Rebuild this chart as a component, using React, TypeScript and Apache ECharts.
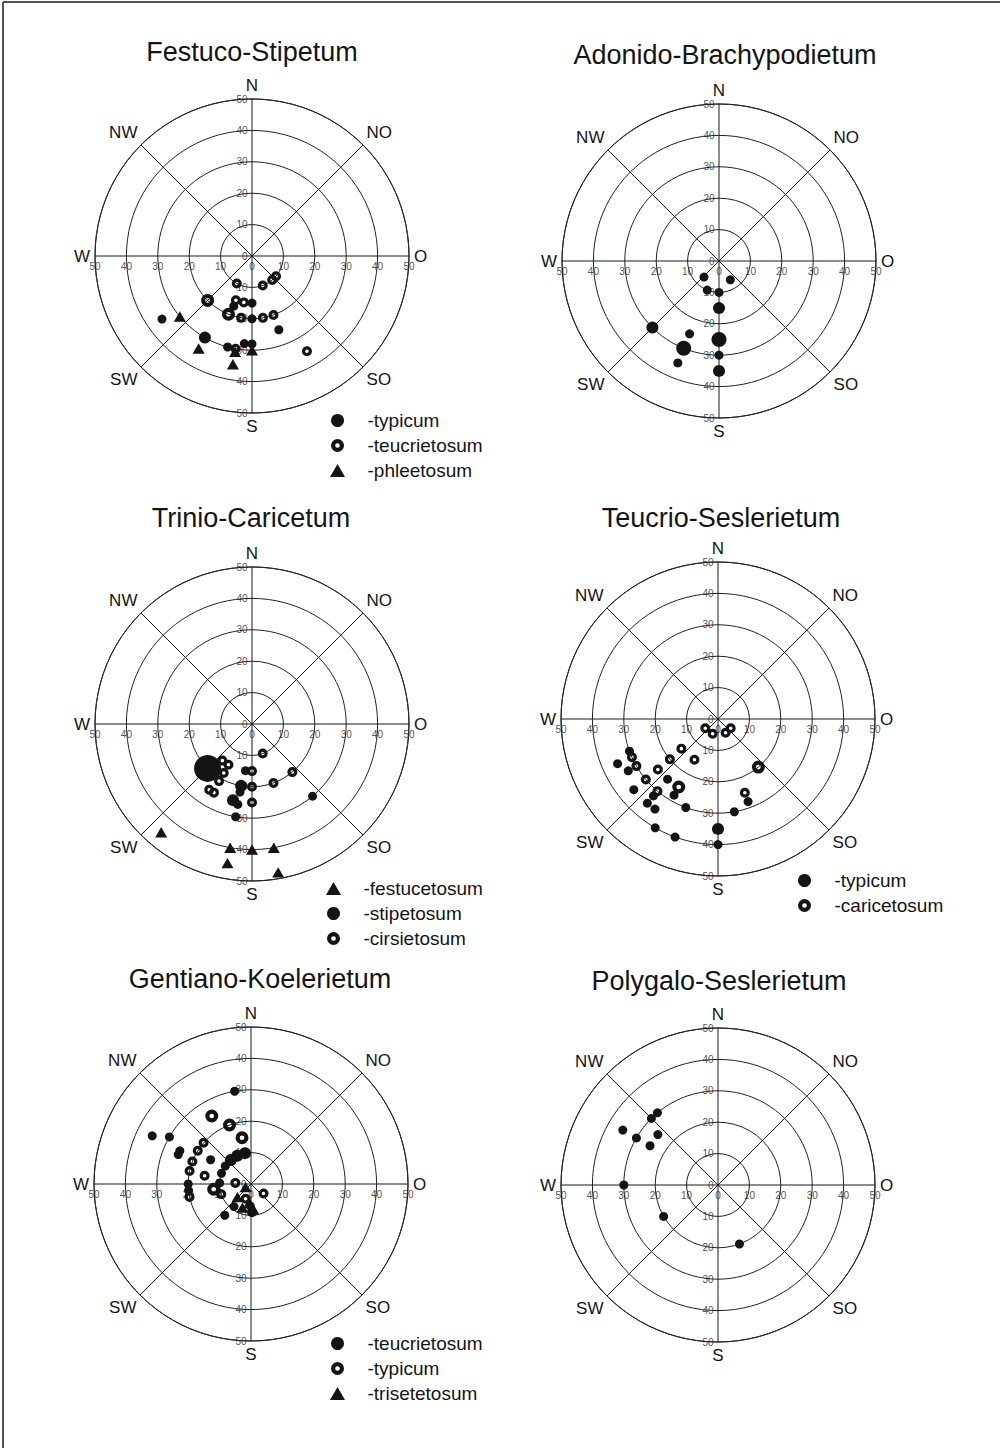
import React, { useEffect, useRef } from "react";
import * as echarts from "echarts";

// Each point: [aspect in degrees clockwise from N, slope in degrees, number of relevés]
const fsTypicum = [[235, 35, 1], [210, 30, 2], [180, 15, 1], [200, 17, 1], [180, 20, 1], [160, 25, 1], [185, 28, 1], [180, 28, 1], [195, 30, 1]];
const fsTeucrietosum = [[209, 10, 1], [160, 10, 1], [140, 10, 1], [130, 10, 1], [225, 20, 2], [200, 15, 1], [190, 15, 1], [202, 20, 2], [190, 20, 1], [170, 20, 1], [160, 20, 1], [150, 35, 1], [190, 30, 1]];
const fsPhleetosum = [[230, 30, 1], [210, 34, 1], [190, 35, 1], [180, 30, 1], [190, 31, 1]];

const adTypicum = [[223, 7, 1], [149, 7, 1], [202, 10, 1], [180, 10, 1], [180, 15, 2], [225, 30, 2], [202, 25, 1], [202, 30, 3], [202, 35, 1], [180, 25, 3], [180, 30, 1], [180, 35, 2]];

const tcFestucetosum = [[220, 45, 1], [190, 40, 1], [180, 40, 1], [170, 40, 1], [190, 45, 1], [170, 48, 1]];
const tcStipetosum = [[225, 20, 7], [188, 15, 1], [190, 20, 2], [194, 25, 2], [190, 26, 1], [190, 30, 1], [140, 30, 1], [190, 22, 1]];
const tcCirsietosum = [[160, 10, 1], [180, 15, 1], [140, 20, 1], [160, 20, 1], [180, 20, 1], [180, 25, 1], [219, 15, 1], [210, 15, 1], [210, 18, 1], [210, 21, 1], [213, 25, 1], [209, 25, 1]];

const tsTypicum = [[250, 30, 1], [246, 35, 1], [240, 33, 1], [230, 35, 1], [220, 25, 1], [210, 28, 1], [220, 32, 1], [220, 35, 1], [215, 35, 1], [200, 30, 1], [170, 30, 1], [160, 28, 1], [210, 40, 1], [200, 40, 1], [180, 35, 2], [180, 40, 1]];
const tsCaricetosum = [[234, 5, 1], [200, 5, 1], [151, 5, 1], [126, 5, 1], [231, 15, 1], [210, 15, 1], [230, 20, 1], [140, 20, 2], [230, 25, 1], [210, 25, 2], [220, 30, 1], [160, 25, 1], [230, 30, 1], [240, 30, 1], [246, 30, 1]];

const gkTeucrietosum = [[350, 30, 1], [296, 35, 1], [300, 30, 1], [295, 25, 1], [292, 25, 1], [301, 15, 1], [270, 20, 1], [264, 20, 1], [349, 10, 2], [334, 10, 2], [320, 10, 2], [305, 10, 1], [290, 10, 1], [272, 10, 1], [220, 13, 1], [217, 9, 1], [182, 7, 1]];
const gkTypicum = [[330, 25, 2], [340, 20, 2], [311, 20, 1], [302, 20, 1], [291, 20, 1], [282, 20, 1], [258, 20, 1], [280, 15, 1], [262, 12, 2], [251, 10, 1], [274, 5, 1], [349, 15, 2], [127, 5, 1], [200, 5, 1], [178, 9, 1]];
const gkTrisetetosum = [[240, 2, 1], [226, 6, 1], [185, 6, 1], [175, 8, 1], [200, 8, 1]];

const psTypicum = [[320, 30, 1], [315, 30, 1], [300, 35, 1], [300, 30, 1], [310, 25, 1], [300, 25, 1], [270, 30, 1], [240, 20, 1], [160, 20, 1]];

const tickValues = [0, 10, 20, 30, 40, 50];
const directionLabels: Record<number, string> = { 0: "N", 45: "NO", 90: "O", 135: "SO", 180: "S", 225: "SW", 270: "W", 315: "NW" };

const FONT = "'Liberation Sans', Arial, Helvetica, sans-serif";
const INK = "#141414";
const RING = "path://M10,0A10,10,0,1,1,10,20A10,10,0,1,1,10,0ZM10,6.4A3.6,3.6,0,1,0,10,13.6A3.6,3.6,0,1,0,10,6.4Z";
const TRIANGLE = "path://M10,0L20,17.3L0,17.3Z";

type Layer = { name: string; kind: "dot" | "ring" | "tri"; data: number[][] };
type Plot = {
  title: string;
  center: [number, number];
  titlePos: [number, number];
  layers: Layer[];
  legend?: [number, number];
};

const plots: Plot[] = [
  {
    title: "Festuco-Stipetum", center: [252, 256], titlePos: [252, 38],
    layers: [
      { name: "-typicum#1", kind: "dot", data: fsTypicum },
      { name: "-teucrietosum#1", kind: "ring", data: fsTeucrietosum },
      { name: "-phleetosum#1", kind: "tri", data: fsPhleetosum },
    ],
    legend: [330, 408],
  },
  {
    title: "Adonido-Brachypodietum", center: [719, 261], titlePos: [725, 41],
    layers: [{ name: "typicum#2", kind: "dot", data: adTypicum }],
  },
  {
    title: "Trinio-Caricetum", center: [252, 724], titlePos: [251, 504],
    layers: [
      { name: "-festucetosum#3", kind: "tri", data: tcFestucetosum },
      { name: "-stipetosum#3", kind: "dot", data: tcStipetosum },
      { name: "-cirsietosum#3", kind: "ring", data: tcCirsietosum },
    ],
    legend: [326, 876],
  },
  {
    title: "Teucrio-Seslerietum", center: [718, 719], titlePos: [721, 504],
    layers: [
      { name: "-typicum#4", kind: "dot", data: tsTypicum },
      { name: "-caricetosum#4", kind: "ring", data: tsCaricetosum },
    ],
    legend: [798, 868],
  },
  {
    title: "Gentiano-Koelerietum", center: [251, 1184], titlePos: [260, 965],
    layers: [
      { name: "-teucrietosum#5", kind: "dot", data: gkTeucrietosum },
      { name: "-typicum#5", kind: "ring", data: gkTypicum },
      { name: "-trisetetosum#5", kind: "tri", data: gkTrisetetosum },
    ],
    legend: [330, 1331],
  },
  {
    title: "Polygalo-Seslerietum", center: [718, 1185], titlePos: [719, 967],
    layers: [{ name: "typicum#6", kind: "dot", data: psTypicum }],
  },
];

const stripName = (n: string) => n.split("#")[0];

function buildOption() {
  const polar: any[] = [];
  const angleAxis: any[] = [];
  const radiusAxis: any[] = [];
  const series: any[] = [];
  const title: any[] = [];
  const legend: any[] = [];

  plots.forEach((p, i) => {
    polar.push({ center: p.center, radius: 157 });
    angleAxis.push({
      polarIndex: i,
      type: "value",
      min: 0,
      max: 360,
      interval: 45,
      startAngle: 90,
      clockwise: true,
      axisLine: { show: true, lineStyle: { color: "#222", width: 1 } },
      axisTick: { show: false },
      axisLabel: {
        show: true,
        margin: 5,
        fontSize: 17,
        fontFamily: FONT,
        color: INK,
        formatter: (v: number) => (v >= 360 ? "" : directionLabels[v] || ""),
      },
      splitLine: { show: true, lineStyle: { color: "#1a1a1a", width: 1 } },
    });
    radiusAxis.push({
      polarIndex: i,
      type: "value",
      min: 0,
      max: 50,
      interval: 10,
      axisLine: { show: false },
      axisTick: { show: false },
      axisLabel: { show: false },
      splitLine: { show: true, lineStyle: { color: "#222", width: 1 } },
    });

    // tick labels along the W-O line (below) and along the N-S line (left)
    const hData: number[][] = [];
    const vData: number[][] = [];
    tickValues.forEach((t) => {
      hData.push([t, 270]);
      if (t > 0) hData.push([t, 90]);
      vData.push([t, 0]);
      if (t > 0) vData.push([t, 180]);
    });
    const tickSeries = (data: number[][], position: string) => ({
      type: "scatter",
      name: "ticks" + position + i,
      coordinateSystem: "polar",
      polarIndex: i,
      silent: true,
      z: 1,
      symbol: "circle",
      symbolSize: 1,
      itemStyle: { color: "rgba(0,0,0,0)" },
      label: {
        show: true,
        position,
        distance: position === "left" ? 4 : 5,
        fontSize: 10,
        fontFamily: FONT,
        color: "#222",
        formatter: (prm: any) => String(prm.value[0]),
      },
      data,
    });
    series.push(tickSeries(hData, "bottom"));
    series.push(tickSeries(vData, "left"));

    p.layers.forEach((l) => {
      series.push({
        type: "scatter",
        name: l.name,
        coordinateSystem: "polar",
        polarIndex: i,
        z: 3,
        symbol: l.kind === "dot" ? "circle" : l.kind === "ring" ? RING : TRIANGLE,
        symbolKeepAspect: true,
        symbolSize: (v: number[]) => (l.kind === "tri" ? 12 : l.kind === "ring" ? 7 + 3 * v[2] : 6 + 3 * v[2]),
        itemStyle: { color: INK, opacity: 1 },
        data: l.data.map(([aspect, slope, n]) => [slope, aspect, n]),
      });
    });

    title.push({
      text: p.title,
      left: p.titlePos[0],
      top: p.titlePos[1],
      textAlign: "center",
      padding: 0,
      textStyle: { fontSize: 27, fontWeight: "normal", color: INK, fontFamily: FONT },
    });

    if (p.legend) {
      legend.push({
        data: p.layers.map((l) => ({
          name: l.name,
          icon: l.kind === "dot" ? "circle" : l.kind === "ring" ? RING : TRIANGLE,
        })),
        orient: "vertical",
        left: p.legend[0],
        top: p.legend[1],
        padding: 0,
        itemWidth: 50,
        itemHeight: 13,
        itemGap: 0,
        symbolKeepAspect: true,
        selectedMode: false,
        formatter: (n: string) => stripName(n),
        textStyle: { fontSize: 19, lineHeight: 25, color: INK, fontFamily: FONT },
      });
    }
  });

  return {
    animation: false,
    backgroundColor: "#ffffff",
    textStyle: { fontFamily: FONT },
    title,
    legend,
    polar,
    angleAxis,
    radiusAxis,
    series,
    graphic: [
      { type: "line", shape: { x1: 3, y1: 2, x2: 1000, y2: 2 }, style: { stroke: "#555", lineWidth: 2 } },
      { type: "line", shape: { x1: 3, y1: 2, x2: 3, y2: 1448 }, style: { stroke: "#555", lineWidth: 2 } },
    ],
  };
}

export default function App() {
  const ref = useRef<HTMLDivElement>(null);
  useEffect(() => {
    if (!ref.current) return;
    const chart = echarts.init(ref.current, undefined, { renderer: "svg" });
    chart.setOption(buildOption() as any);
    return () => chart.dispose();
  }, []);
  return (
    <div
      ref={ref}
      style={{ position: "absolute", left: 0, top: 0, width: 1000, height: 1448, background: "#fff" }}
    />
  );
}
